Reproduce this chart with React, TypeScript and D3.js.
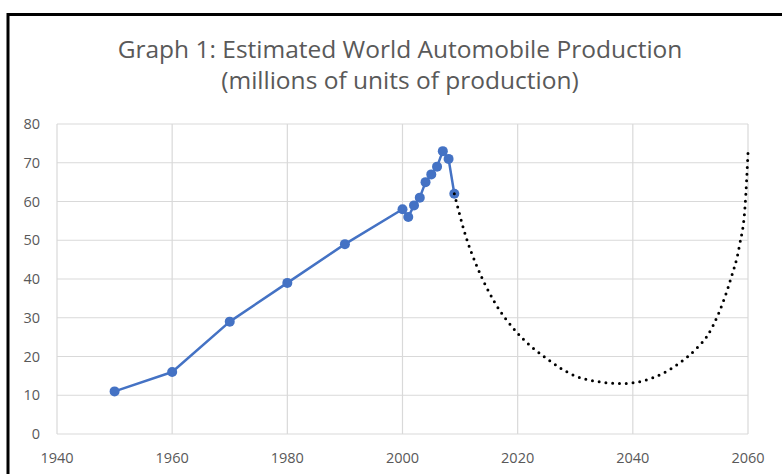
import React from "react";
import * as d3 from "d3";

const years = [1950, 1960, 1970, 1980, 1990, 2000, 2001, 2002, 2003, 2004, 2005, 2006, 2007, 2008, 2009];
const production = [11, 16, 29, 39, 49, 58, 56, 59, 61, 65, 67, 69, 73, 71, 62];

const forecastYears = [2009, 2011, 2013, 2016, 2020, 2025, 2030, 2034, 2038, 2042, 2045, 2048, 2051, 2053, 2055, 2057, 2058.5, 2059.5, 2060];
const forecastValues = [62, 51, 43, 34, 26, 19.5, 15, 13.5, 13, 13.8, 15.5, 18.2, 22, 25.5, 31.5, 40, 48.5, 59, 72.5];

const xTicks = [1940, 1960, 1980, 2000, 2020, 2040, 2060];
const yTicks = [0, 10, 20, 30, 40, 50, 60, 70, 80];

const titleLines = ["Graph 1: Estimated World Automobile Production", "(millions of units of production)"];

export default function App() {
  const W = 782, H = 474;
  const left = 57, right = 748, top = 124, bottom = 434;
  const x = d3.scaleLinear().domain([1940, 2060]).range([left, right]);
  const y = d3.scaleLinear().domain([0, 80]).range([bottom, top]);
  const font = "'Open Sans', sans-serif";
  const textColor = "#595959";

  const actual = years.map((yr, i) => [yr, production[i]] as [number, number]);
  const forecast = forecastYears.map((yr, i) => [yr, forecastValues[i]] as [number, number]);

  const line = d3.line<[number, number]>().x(d => x(d[0])).y(d => y(d[1]));
  const curve = d3.line<[number, number]>().x(d => x(d[0])).y(d => y(d[1])).curve(d3.curveMonotoneX);

  return (
    <svg width={W} height={H} style={{ position: "absolute", left: 0, top: 0, background: "#fff" }}>
      <rect x={0} y={0} width={W} height={H} fill="#fff" />
      <rect x={8} y={14.5} width={W + 10} height={H + 10} fill="none" stroke="#000" strokeWidth={3} />
      {titleLines.map((t, i) => (
        <text key={i} x={400} y={58 + i * 31} textAnchor="middle" fontFamily={font} fontSize={24.5} fill={textColor}>
          {t}
        </text>
      ))}
      {yTicks.map(v => (
        <g key={"y" + v}>
          <line x1={left} x2={right} y1={y(v)} y2={y(v)} stroke="#d9d9d9" strokeWidth={1.2} />
          <text x={40} y={y(v)} dy="0.35em" textAnchor="end" fontFamily={font} fontSize={14.5} fill={textColor}>
            {v}
          </text>
        </g>
      ))}
      {xTicks.map(v => (
        <g key={"x" + v}>
          <line x1={x(v)} x2={x(v)} y1={top} y2={bottom} stroke="#d9d9d9" strokeWidth={1.2} />
          <text x={x(v)} y={463} textAnchor="middle" fontFamily={font} fontSize={14.5} fill={textColor}>
            {v}
          </text>
        </g>
      ))}
      <path d={line(actual) || ""} fill="none" stroke="#4472C4" strokeWidth={2.5} strokeLinejoin="round" />
      {actual.map((d, i) => (
        <circle key={i} cx={x(d[0])} cy={y(d[1])} r={5} fill="#4472C4" />
      ))}
      <path d={curve(forecast) || ""} fill="none" stroke="#000" strokeWidth={3} strokeDasharray="0 6.8" strokeLinecap="round" />
    </svg>
  );
}
